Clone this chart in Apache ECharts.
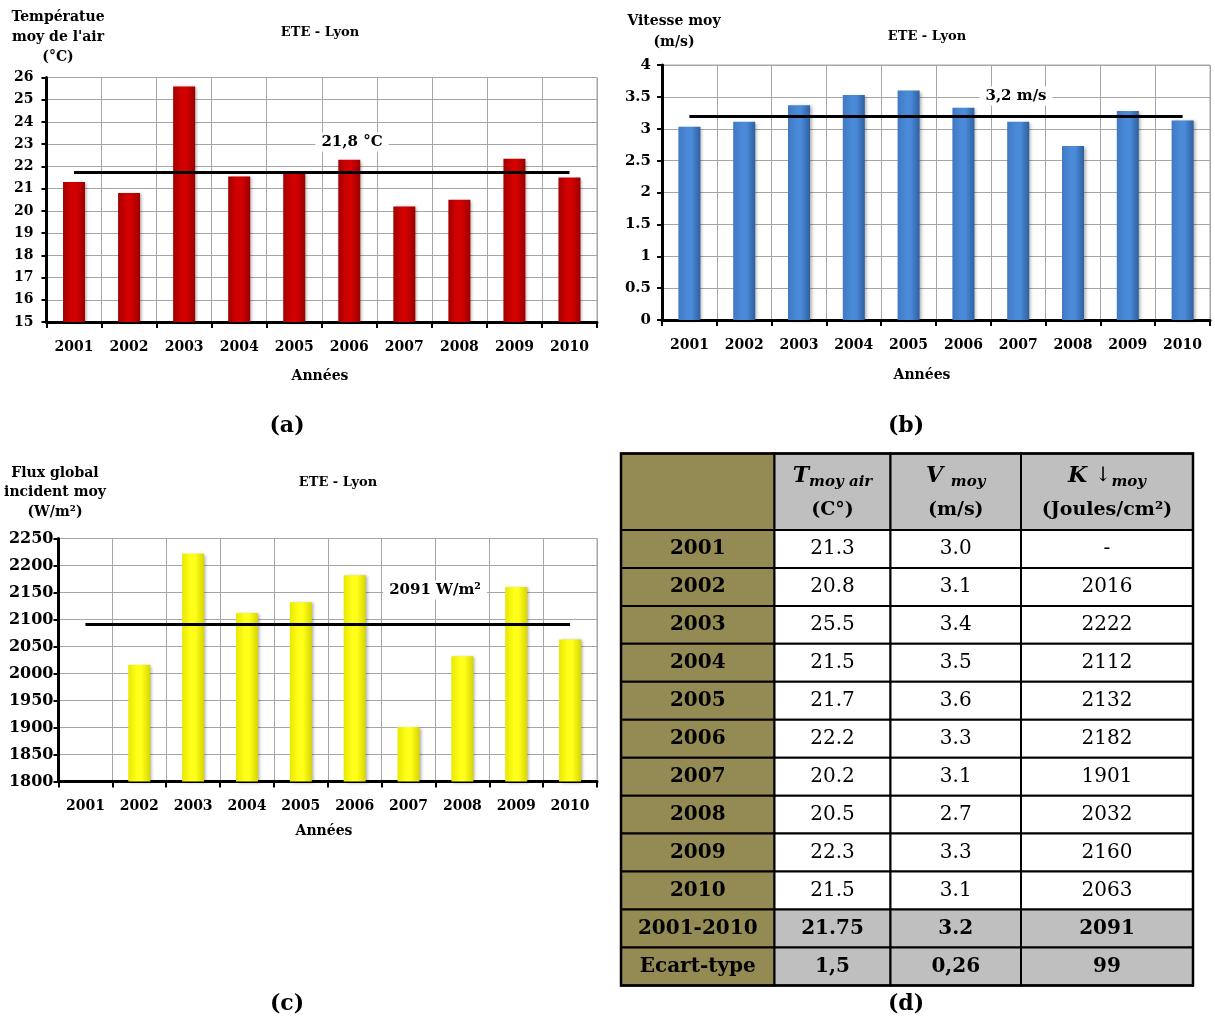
<!DOCTYPE html>
<html><head><meta charset="utf-8">
<script src="https://cdn.jsdelivr.net/npm/echarts@6/dist/echarts.min.js"></script>
<style>html,body{margin:0;padding:0;background:#fff}#c{width:1215px;height:1024px}</style>
</head><body><div id="c"></div>
<script>
// ---------- data ----------
const years = ['2001','2002','2003','2004','2005','2006','2007','2008','2009','2010'];
const tempValues = [21.3, 20.8, 25.6, 21.55, 21.7, 22.3, 20.2, 20.5, 22.35, 21.5];
const windValues = [3.03, 3.11, 3.37, 3.53, 3.6, 3.33, 3.11, 2.73, 3.28, 3.13];
const fluxValues = [null, 2016, 2222, 2112, 2132, 2182, 1901, 2032, 2160, 2063];
const meanValues = [21.75, 3.2, 2091];
const meanLabels = ['21,8 °C', '3,2 m/s', '2091 W/m²'];
const tempTicks = [15, 26, 1];
const windTicks = [0, 4, 0.5];
const fluxTicks = [1800, 2250, 50];
const chartTitles = ['ETE - Lyon', 'ETE - Lyon', 'ETE - Lyon'];
const yNames = [['Températue', "moy de l'air", '(°C)'], ['Vitesse moy', '(m/s)'], ['Flux global', 'incident moy', '(W/m²)']];
const xName = 'Années';
const panelLabels = ['(a)', '(b)', '(c)', '(d)'];

const tableRowLabels = ['2001','2002','2003','2004','2005','2006','2007','2008','2009','2010','2001-2010','Ecart-type'];
const tableT = ['21.3','20.8','25.5','21.5','21.7','22.2','20.2','20.5','22.3','21.5','21.75','1,5'];
const tableV = ['3.0','3.1','3.4','3.5','3.6','3.3','3.1','2.7','3.3','3.1','3.2','0,26'];
const tableK = ['-','2016','2222','2112','2132','2182','1901','2032','2160','2063','2091','99'];
const tableHeads = [
  {main: 'T', sub: 'moy air', unit: '(C°)'},
  {main: 'V ', sub: 'moy', unit: '(m/s)'},
  {main: 'K ', arrow: '↓', sub: 'moy', unit: '(Joules/cm²)'}
];

// ---------- style ----------
const FONT = "'DejaVu Serif', 'Liberation Serif', serif";
const GRID_GRAY = '#A6A6A6';
function grad(c0, c1, c2) {
  return new echarts.graphic.LinearGradient(0, 0, 1, 0, [
    {offset: 0, color: c0}, {offset: 0.4, color: c1}, {offset: 0.6, color: c1}, {offset: 1, color: c2}
  ]);
}
const barColors = [
  grad('#A30000', '#D30000', '#9A0000'),
  grad('#4179C2', '#4A8AD8', '#2E609F'),
  grad('#E8E800', '#FFFF1A', '#D6D600')
];

const grids = [
  {left: 46.5, top: 77.5, width: 550.5, height: 244.5},
  {left: 662, top: 65, width: 548, height: 255},
  {left: 58.5, top: 538.5, width: 538.5, height: 243}
];
const yLabelSizes = [14, 15, 16];
const yLabelMargins = [13, 11, 5];
const tickSets = [tempTicks, windTicks, fluxTicks];
const seriesData = [tempValues, windValues, fluxValues];

const option = {
  animation: false,
  backgroundColor: '#fff',
  grid: grids.map(g => Object.assign({show: true, borderColor: GRID_GRAY, borderWidth: 1, backgroundColor: 'transparent'}, g)),
  xAxis: grids.map((g, i) => ({
    type: 'category', gridIndex: i, data: years,
    axisLine: {show: true, lineStyle: {color: '#000', width: 3}},
    axisTick: {show: true, length: 6, lineStyle: {color: '#000', width: 2}},
    axisLabel: {fontFamily: FONT, fontWeight: 'bold', fontSize: 14, color: '#000', margin: 18},
    splitLine: {show: true, lineStyle: {color: GRID_GRAY, width: 1}}
  })),
  yAxis: grids.map((g, i) => ({
    type: 'value', gridIndex: i,
    min: tickSets[i][0], max: tickSets[i][1], interval: tickSets[i][2],
    axisLine: {show: true, lineStyle: {color: '#000', width: 3}},
    axisTick: {show: true, length: 5, lineStyle: {color: '#000', width: 2}},
    axisLabel: {fontFamily: FONT, fontWeight: 'bold', fontSize: yLabelSizes[i], color: '#000', margin: yLabelMargins[i],
      formatter: v => String(v)},
    splitLine: {show: true, lineStyle: {color: GRID_GRAY, width: 1}}
  })),
  series: seriesData.map((d, i) => ({
    type: 'bar', xAxisIndex: i, yAxisIndex: i, data: d, barWidth: 22,
    itemStyle: {color: barColors[i], shadowColor: 'rgba(0,0,0,0.3)', shadowBlur: 3, shadowOffsetX: 2, shadowOffsetY: 1},
    markLine: {
      silent: true, symbol: ['none', 'none'], label: {show: false},
      lineStyle: {color: '#000', width: 3, type: 'solid'},
      emphasis: {disabled: true},
      data: [[{coord: [years[0], meanValues[i]]}, {coord: [years[years.length - 1], meanValues[i]]}]]
    }
  })),
  graphic: []
};

// ---------- text annotations ----------
const G = option.graphic;
function txt(text, x, y, size, weight, extra) {
  G.push(Object.assign({
    type: 'text', x: x, y: y, z: 100,
    style: Object.assign({
      text: text, fill: '#000', fontFamily: FONT, fontSize: size, fontWeight: weight || 'bold',
      align: 'center', verticalAlign: 'middle', textAlign: 'center', textVerticalAlign: 'middle'
    }, extra || {})
  }));
}
// titles
txt(chartTitles[0], 320, 33, 13);
txt(chartTitles[1], 927, 37, 13);
txt(chartTitles[2], 338, 483, 13);
// y names
[[58, [17, 37, 57]], [674, [21, 42]], [55, [473, 492, 512]]].forEach((p, i) => {
  yNames[i].forEach((line, k) => txt(line, p[0], p[1][k], 14));
});
// x names
txt(xName, 320, 376, 14);
txt(xName, 922, 375, 14);
txt(xName, 324, 831, 14);
// mean labels
txt(meanLabels[0], 352, 142, 15, 'bold', {backgroundColor: '#fff', padding: [2, 6]});
txt(meanLabels[1], 1016, 96, 15, 'bold', {backgroundColor: '#fff', padding: [2, 6]});
txt(meanLabels[2], 435, 590, 15, 'bold', {backgroundColor: '#fff', padding: [2, 6]});
// panel labels
txt(panelLabels[0], 287, 426, 22);
txt(panelLabels[1], 906, 426, 22);
txt(panelLabels[2], 287, 1004, 22);
txt(panelLabels[3], 906, 1004, 22);

// ---------- table (d) ----------
const colX = [621, 774.5, 890.5, 1021, 1193];
const headTop = 453.5, headBot = 530, rowH = 37.95;
const OLIVE = '#948A54', GRAY = '#BFBFBF';
function cell(x0, y0, x1, y1, fill) {
  G.push({type: 'rect', z: 50, shape: {x: x0, y: y0, width: x1 - x0, height: y1 - y0},
    style: {fill: fill, stroke: '#000', lineWidth: 2}});
}
// header row
cell(colX[0], headTop, colX[1], headBot, OLIVE);
tableHeads.forEach((h, c) => {
  cell(colX[c + 1], headTop, colX[c + 2], headBot, GRAY);
  const cx = (colX[c + 1] + colX[c + 2]) / 2;
  const rt = '{m|' + h.main + '}' + (h.arrow ? '{a|' + h.arrow + '}' : '') + '{s|' + h.sub + '}';
  G.push({type: 'text', x: cx, y: 476, z: 100, style: {
    text: rt, align: 'center', verticalAlign: 'middle', textAlign: 'center', textVerticalAlign: 'middle',
    rich: {
      m: {fontFamily: FONT, fontSize: 22, fontWeight: 'bold', fontStyle: 'italic', fill: '#000', lineHeight: 28, verticalAlign: 'middle'},
      a: {fontFamily: FONT, fontSize: 20, fontWeight: 'normal', fill: '#000', lineHeight: 28, verticalAlign: 'middle'},
      s: {fontFamily: FONT, fontSize: 15, fontWeight: 'bold', fontStyle: 'italic', fill: '#000', lineHeight: 17, verticalAlign: 'bottom'}
    }
  }});
  txt(h.unit, cx, 510, 19, 'bold');
});
// body rows
const cols = [tableT, tableV, tableK];
tableRowLabels.forEach((lab, r) => {
  const y0 = headBot + r * rowH, y1 = y0 + rowH, cy = (y0 + y1) / 2;
  const summary = r >= 10;
  cell(colX[0], y0, colX[1], y1, OLIVE);
  txt(lab, (colX[0] + colX[1]) / 2, cy, 20, 'bold');
  cols.forEach((arr, c) => {
    cell(colX[c + 1], y0, colX[c + 2], y1, summary ? GRAY : '#fff');
    txt(arr[r], (colX[c + 1] + colX[c + 2]) / 2, cy, 20, summary ? 'bold' : 'normal');
  });
});
G.push({type: 'rect', z: 60, shape: {x: colX[0], y: headTop, width: colX[4] - colX[0], height: headBot + 12 * rowH - headTop},
  style: {fill: 'none', stroke: '#000', lineWidth: 2.5}});

const chart = echarts.init(document.getElementById('c'), null, {renderer: 'canvas'});
chart.setOption(option);
</script></body></html>
